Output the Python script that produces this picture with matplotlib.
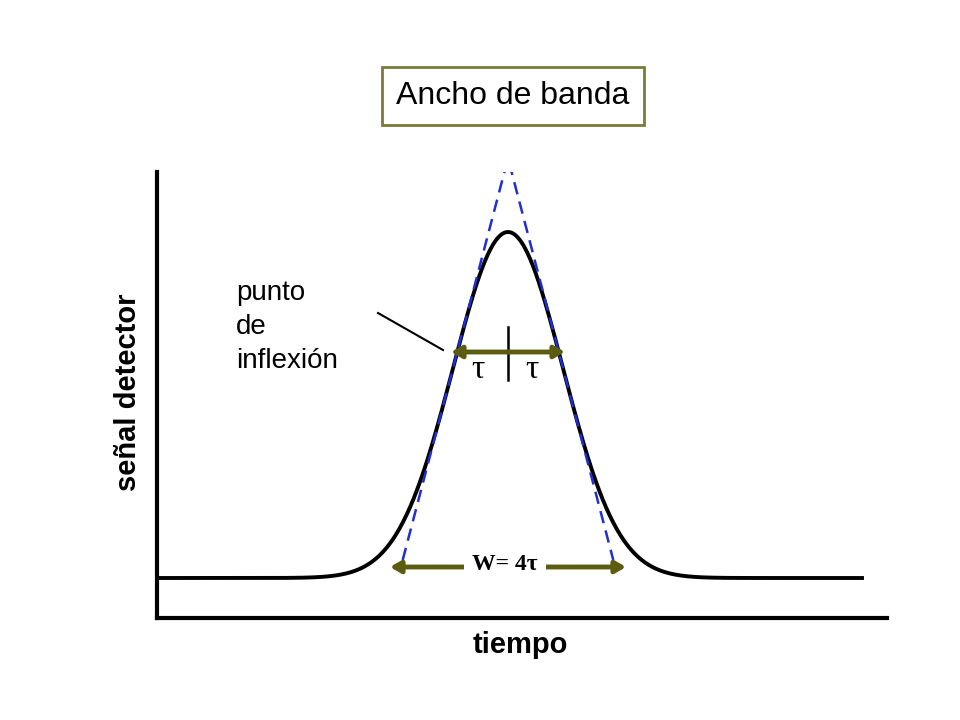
import numpy as np
import matplotlib
matplotlib.use("Agg")
import matplotlib.pyplot as plt

plt.rcParams['font.family'] = ['Liberation Sans', 'DejaVu Sans']

# peak parameters (axis units)
center = 351.0
sigma = 55.0
height = 346.0
baseline = 40.0
x_range = (0.0, 705.0)

fig = plt.figure(figsize=(9.6, 7.2), dpi=100)
ax = fig.add_axes([157/960, 102/720, 730/960, 446/720])
ax.set_xlim(0, 730)
ax.set_ylim(0, 446)
for s in ["top", "right"]:
    ax.spines[s].set_visible(False)
for s in ["left", "bottom"]:
    ax.spines[s].set_linewidth(3)
ax.set_xticks([]); ax.set_yticks([])

x = np.linspace(*x_range, 800)
y = baseline + height*np.exp(-0.5*((x-center)/sigma)**2)
ax.plot(x, y, color="black", lw=2.8)

# tangents through inflection points
yi = baseline + height*np.exp(-0.5)
slope = height*np.exp(-0.5)/sigma
apex = yi + slope*sigma
yend = 58
xl = center - (apex-yend)/slope
xr = center + (apex-yend)/slope
ax.plot([xl, center, xr], [yend, apex, yend], color="#1f2fd0", lw=1.8, ls=(0, (5, 3)))

olive = "#5c5c10"
ya = 266
ap = dict(arrowstyle="-|>,head_length=0.6,head_width=0.35", color=olive, lw=3.5, shrinkA=0, shrinkB=0)
ax.annotate("", xy=(center-sigma-2, ya), xytext=(center, ya), arrowprops=ap)
ax.annotate("", xy=(center+sigma+2, ya), xytext=(center, ya), arrowprops=ap)
ax.plot([center, center], [238, 291], color="black", lw=1.8)
ax.text(center-30, 248, "τ", fontsize=24, family="Liberation Serif", ha="center", va="center")
ax.text(center+24, 248, "τ", fontsize=24, family="Liberation Serif", ha="center", va="center")

yb = 51
ap2 = dict(arrowstyle="<|-|>,head_length=0.6,head_width=0.35", color=olive, lw=3.5, shrinkA=0, shrinkB=0)
ax.annotate("", xy=(center-118, yb), xytext=(center+118, yb), arrowprops=ap2)
ax.text(center-3, yb+2, "W= 4τ", fontsize=17, fontweight="bold", family="Liberation Serif",
        ha="center", va="center", bbox=dict(facecolor="white", edgecolor="none", pad=6))

# label line
ax.plot([221, 286], [305, 268], color="black", lw=1.5)
fig.text(236/960, 1-327/720, "punto\nde\ninflexión", fontsize=20, ha="left", va="center", linespacing=1.4)

fig.text(128/960, 1-392/720, "señal detector", fontsize=21, fontweight="bold", rotation=90, ha="center", va="center")
fig.text(520/960, 1-645/720, "tiempo", fontsize=21, fontweight="bold", ha="center", va="center")

fig.text(513/960, 1-96/720, "Ancho de banda", fontsize=23, ha="center", va="center",
         bbox=dict(facecolor="white", edgecolor="#7a7a3a", lw=2, boxstyle="square,pad=0.45"))

fig.savefig("out.png", dpi=100)
